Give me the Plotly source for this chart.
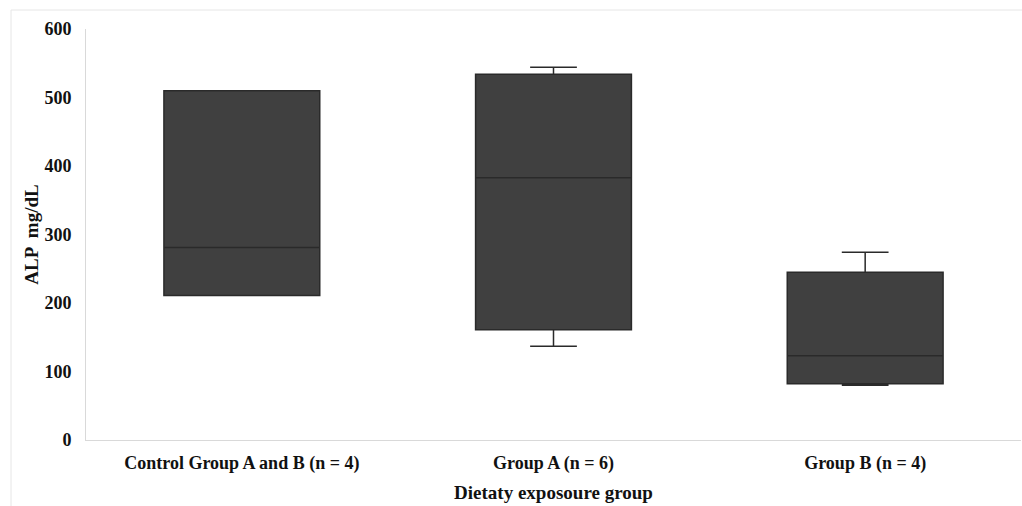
import plotly.graph_objects as go

# Box statistics for ALP (mg/dL) per dietary exposure group
groups = ["Control Group A and B (n = 4)", "Group A (n = 6)", "Group B (n = 4)"]
lower = [211, 137, 80]
q1 = [211, 161, 82]
median = [281, 383, 123]
q3 = [510, 534, 245]
upper = [510, 544, 274]

y_ticks = [0, 100, 200, 300, 400, 500, 600]

FONT = "Liberation Serif"

fig = go.Figure()
fig.add_trace(go.Box(
    x=groups,
    q1=q1,
    median=median,
    q3=q3,
    lowerfence=lower,
    upperfence=upper,
    fillcolor="#404040",
    line=dict(color="#2a2a2a", width=1.5),
    width=0.5,
    whiskerwidth=0.3,
    boxpoints=False,
    showlegend=False,
))

fig.update_layout(
    width=1022,
    height=506,
    margin=dict(l=86, r=1, t=29, b=66),
    paper_bgcolor="white",
    plot_bgcolor="white",
    font=dict(family=FONT, size=16, color="#111111"),
    xaxis=dict(
        range=[-0.5, 2.5],
        showline=True, linecolor="#d9d9d9", linewidth=1,
        showgrid=False, ticks="", zeroline=False,
        ticklabelstandoff=6,
        tickfont=dict(family=FONT, size=18, color="#111111", weight="bold"),
        title=dict(text="<b>Dietaty exposoure group</b>", standoff=13,
                   font=dict(family=FONT, size=19, color="#111111")),
    ),
    yaxis=dict(
        range=[0, 600], tickvals=y_ticks,
        showline=True, linecolor="#d9d9d9", linewidth=1,
        showgrid=False, ticks="", zeroline=False,
        ticklabelstandoff=10,
        tickfont=dict(family=FONT, size=18, color="#111111", weight="bold"),
        title=dict(text="<b>ALP  mg/dL</b>", standoff=0,
                   font=dict(family=FONT, size=19, color="#111111")),
    ),
    shapes=[dict(
        type="rect", xref="paper", yref="paper",
        x0=-75 / 935, x1=1.05, y0=-0.2, y1=1 + 19 / 411,
        line=dict(color="#e6e6e6", width=1), fillcolor="rgba(0,0,0,0)",
        layer="below",
    )],
)

fig.write_html("out.html")
